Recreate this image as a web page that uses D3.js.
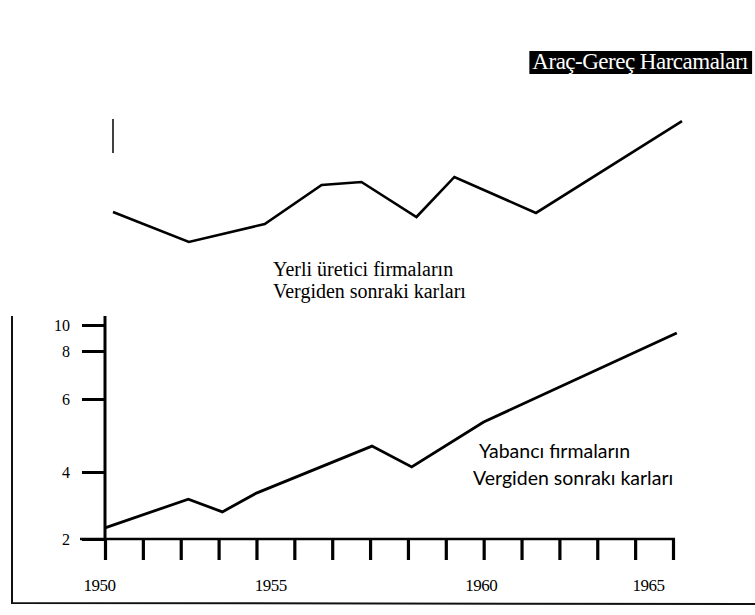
<!DOCTYPE html>
<html>
<head>
<meta charset="utf-8">
<script src="https://cdn.jsdelivr.net/npm/d3@7"></script>
<style>
  body { margin: 0; background: #fff; }
  svg { display: block; }
  .serif { font-family: "Liberation Serif", "Times New Roman", Times, serif; }
  .sans { font-family: Lato, "Open Sans", sans-serif; }
</style>
</head>
<body>
<div id="chart"></div>
<script>
// Data
const years = d3.range(1950, 1966);
const yTicks = [2, 4, 6, 8, 10];

// Yabancı firmalar (lower chart, read against left axis)
const foreignYears = [1950, 1952.2, 1953.1, 1954, 1957.05, 1958.1, 1960, 1965.1];
const foreignValues = [2.33, 3.19, 2.81, 3.37, 4.71, 4.14, 5.37, 9.38];

// Yerli üretici firmalar (upper chart, no scale shown, relative units 0-10)
const localYears = [1950, 1952, 1954, 1955.5, 1956.55, 1958, 1959, 1961.15, 1965];
const localValues = [2.92, 0.62, 2.0, 5.0, 5.23, 2.54, 5.62, 2.85, 9.92];

const width = 755;
const height = 615;

const svg = d3.select("#chart")
  .append("svg")
  .attr("width", width)
  .attr("height", height);

svg.append("rect")
  .attr("width", width)
  .attr("height", height)
  .attr("fill", "#fff");

// Scales
const x = d3.scaleLinear()
  .domain([1950, 1965])
  .range([105, 673]);

// hand drawn axis, spacing between ticks is uneven
const y = d3.scaleLinear()
  .domain(yTicks)
  .range([539, 472, 399, 351, 325]);

const xTop = d3.scaleLinear()
  .domain([1950, 1965])
  .range([113, 682]);

const yTop = d3.scaleLinear()
  .domain([0, 10])
  .range([250, 120]);

// Frame (left + bottom)
svg.append("path")
  .attr("d", "M12,316 L12,603 L755,604")
  .attr("fill", "none")
  .attr("stroke", "#111")
  .attr("stroke-width", 2);

// Title box
const title = svg.append("g");
const titleText = title.append("text")
  .attr("class", "serif")
  .attr("x", 748)
  .attr("y", 69)
  .attr("text-anchor", "end")
  .attr("fill", "#fff")
  .style("font-size", "23px")
  .style("letter-spacing", "-0.5px")
  .text("Araç-Gereç Harcamaları");
const tb = titleText.node().getBBox();
title.insert("rect", "text")
  .attr("x", tb.x - 3)
  .attr("y", 51)
  .attr("width", tb.width + 7)
  .attr("height", 23)
  .attr("fill", "#000");

// Upper chart: short axis stub
svg.append("line")
  .attr("x1", 113).attr("x2", 113)
  .attr("y1", 119).attr("y2", 153)
  .attr("stroke", "#111")
  .attr("stroke-width", 1.6);

const line = (xs, ys) => d3.line()
  .x(d => xs(d[0]))
  .y(d => ys(d[1]));

svg.append("path")
  .datum(d3.zip(localYears, localValues))
  .attr("d", line(xTop, yTop))
  .attr("fill", "none")
  .attr("stroke", "#000")
  .attr("stroke-width", 2.6);

// Upper label
svg.append("text")
  .attr("class", "serif")
  .attr("x", 273).attr("y", 276)
  .style("font-size", "20px")
  .text("Yerli üretici firmaların");
svg.append("text")
  .attr("class", "serif")
  .attr("x", 273).attr("y", 298)
  .style("font-size", "20px")
  .text("Vergiden sonraki karları");

// Lower chart axes
const xAxis = svg.append("g")
  .attr("transform", `translate(0,${y(2)})`)
  .call(d3.axisBottom(x)
    .tickValues(years)
    .tickSize(21)
    .tickPadding(19)
    .tickFormat(d => d % 5 === 0 ? d : ""));

xAxis.select(".domain").remove();
xAxis.selectAll(".tick line")
  .attr("stroke", "#000")
  .attr("stroke-width", 3.2);
const labelNudge = { 1950: -6, 1955: -24, 1960: -3, 1965: -25 };
xAxis.selectAll(".tick text")
  .attr("class", "serif")
  .attr("dx", d => labelNudge[d] || 0)
  .attr("fill", "#000")
  .style("font-size", "17px")
  .style("letter-spacing", "-0.5px");

const yAxis = svg.append("g")
  .attr("transform", `translate(${x(1950)},0)`)
  .call(d3.axisLeft(y)
    .tickValues(yTicks)
    .tickSize(23)
    .tickPadding(12));

yAxis.select(".domain").remove();
yAxis.selectAll(".tick line")
  .attr("stroke", "#000")
  .attr("stroke-width", 3);
yAxis.selectAll(".tick text")
  .attr("class", "serif")
  .attr("fill", "#000")
  .style("font-size", "16px");

// axis lines
svg.append("line")
  .attr("x1", x(1950) - 25).attr("x2", x(1965) + 2)
  .attr("y1", y(2)).attr("y2", y(2))
  .attr("stroke", "#000")
  .attr("stroke-width", 2.6);

svg.append("line")
  .attr("x1", x(1950)).attr("x2", x(1950))
  .attr("y1", y(10) - 9).attr("y2", y(2) + 1)
  .attr("stroke", "#000")
  .attr("stroke-width", 3);

// Lower data line
svg.append("path")
  .datum(d3.zip(foreignYears, foreignValues))
  .attr("d", line(x, y))
  .attr("fill", "none")
  .attr("stroke", "#000")
  .attr("stroke-width", 2.8);

// Lower label
svg.append("text")
  .attr("class", "sans")
  .attr("x", 479).attr("y", 458)
  .style("font-size", "19.5px")
  .text("Yabancı fırmaların");
svg.append("text")
  .attr("class", "sans")
  .attr("x", 473).attr("y", 485)
  .style("font-size", "19.5px")
  .text("Vergiden sonrakı karları");
</script>
</body>
</html>
